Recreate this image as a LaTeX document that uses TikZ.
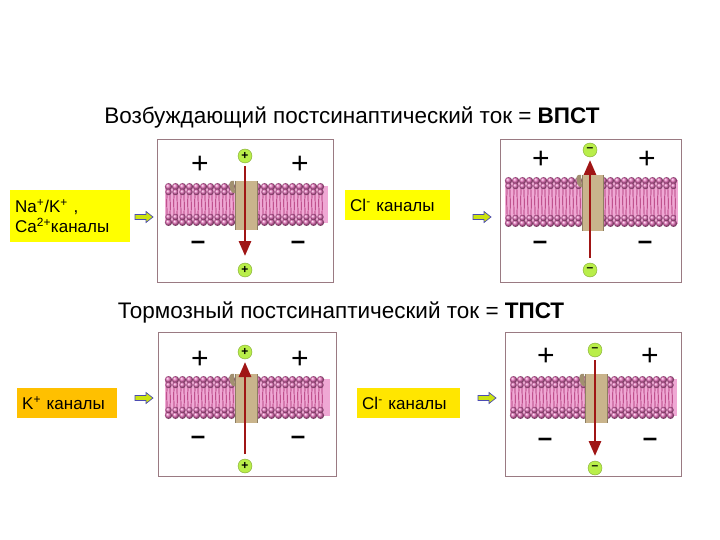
\documentclass[tikz,border=0pt]{standalone}
\usepackage{fontspec}
\setmainfont{Liberation Sans}
\usetikzlibrary{arrows.meta}
\definecolor{lip}{HTML}{E06AB4}
\definecolor{lipd}{HTML}{A8246A}
\definecolor{lipbg}{HTML}{EFA8D4}
\definecolor{chan}{HTML}{C9B48C}
\definecolor{arr}{HTML}{A01515}
\definecolor{ball}{HTML}{B9EE4A}
\definecolor{boxy}{HTML}{FFFF00}
\definecolor{boxo}{HTML}{FFC000}
\definecolor{frame}{HTML}{9A7A82}
\tikzset{
 panel/.style={draw=frame,line width=0.8pt},
 lbl/.style={anchor=north west,inner sep=5pt,font=\fontsize{17}{20}\selectfont,align=left,text width=#1},
 sign/.style={font=\fontsize{30}{30}\selectfont},
 msign/.style={font=\bfseries\fontsize{26}{26}\selectfont},
 ion/.style={circle,fill=ball,draw=ball!70!black,line width=0.4pt,minimum size=14pt,inner sep=0pt,font=\bfseries\fontsize{12}{12}\selectfont},
 current/.style={draw=arr,line width=2.8pt,-{Triangle[length=15pt,width=12pt]}},
 smallarr/.style={draw=gray!60!blue,fill=yellow!80!green,line width=0.7pt},
 title/.style={font=\fontsize{22.5}{26}\selectfont}
}
\newcommand\lipseg[4]{% x1 x2 ytop ybot
 \fill[lipbg] (#1,{#3+3}) rectangle (#2,{#4-3});
 \pgfmathsetmacro\nn{int((#2-#1-7)/7)}
 \pgfmathsetmacro\ym{(#3+#4)/2}
 \foreach \k in {0,...,\nn} {
  \pgfmathsetmacro\xc{#1+3.5+7*\k}
  \draw[lipd,line width=0.7pt] ({\xc-1.2},{#3+6}) -- ({\xc-1.8},{\ym-2}) -- ({\xc-1.2},{#4-6});
  \draw[lipd,line width=0.7pt] ({\xc+1.2},{#3+6}) -- ({\xc+1.8},{\ym+2}) -- ({\xc+1.2},{#4-6});
  \shade[ball color=lip] (\xc,{#3+3.6}) circle (3.6);
  \shade[ball color=lip] (\xc,{#3+9}) circle (3.2);
  \shade[ball color=lip] (\xc,{#4-3.6}) circle (3.6);
  \shade[ball color=lip] (\xc,{#4-9}) circle (3.2);
 }}
\newcommand\chan[4]{% xl xr ytop ybot
 \fill[chan] (#1,{#3-2}) rectangle (#2,{#4+4});
 \draw[chan!70!black,line width=0.6pt] (#1,{#3-2}) -- (#1,{#4+4}) (#2,{#3-2}) -- (#2,{#4+4});
 \fill[chan!80!black] ({#1-1},{#3-2}) .. controls ({#1-8},{#3-4}) and ({#1-6},{#3+8}) .. ({#1-2},{#3+10}) -- (#1,{#3+10}) -- cycle;}
\begin{document}
\begin{tikzpicture}[x=1pt,y=-1pt]
\useasboundingbox (0,0) rectangle (720,540);
\fill[white] (0,0) rectangle (720,540);
\node[title] (t1) at (352,117) {Возбуждающий постсинаптический ток = \textbf{ВПСТ}};
\node[title] (t2) at (341,312) {Тормозный постсинаптический ток = \textbf{ТПСТ}};
% panel 1
\draw[panel] (157,139) rectangle (333,282);
\lipseg{165}{238}{183}{226}\lipseg{254}{328}{183}{226}\chan{235}{257}{183}{226}
\node[sign] (p1a) at (200,165) {+};\node[sign] (p1b) at (300,165) {+};
\node[msign] (m1a) at (198,245) {–};\node[msign] (m1b) at (298,245) {–};
\node[ion] (i1a) at (245,156) {+};\node[ion] (i1b) at (245,270) {+};
\draw[current] (245,166) -- (245,256);
% panel 2
\draw[panel] (500,139) rectangle (681,282);
\lipseg{505}{585}{177}{227}\lipseg{600}{678}{177}{227}\chan{582}{603}{177}{227}
\node[sign] (p2a) at (541,160) {+};\node[sign] (p2b) at (647,160) {+};
\node[msign] (m2a) at (540,245) {–};\node[msign] (m2b) at (645,245) {–};
\node[ion] (i2a) at (590,150) {–};\node[ion] (i2b) at (590,270) {–};
\draw[current] (590,258) -- (590,160);
% panel 3
\draw[panel] (158,332) rectangle (336,476);
\lipseg{165}{238}{376}{419}\lipseg{254}{330}{376}{419}\chan{235}{257}{376}{419}
\node[sign] (p3a) at (200,360) {+};\node[sign] (p3b) at (300,360) {+};
\node[msign] (m3a) at (198,440) {–};\node[msign] (m3b) at (298,440) {–};
\node[ion] (i3a) at (245,352) {+};\node[ion] (i3b) at (245,466) {+};
\draw[current] (245,454) -- (245,362);
% panel 4
\draw[panel] (505,332) rectangle (681,476);
\lipseg{510}{588}{376}{419}\lipseg{604}{677}{376}{419}\chan{585}{607}{376}{419}
\node[sign] (p4a) at (546,357) {+};\node[sign] (p4b) at (650,357) {+};
\node[msign] (m4a) at (545,442) {–};\node[msign] (m4b) at (650,442) {–};
\node[ion] (i4a) at (595,350) {–};\node[ion] (i4b) at (595,468) {–};
\draw[current] (595,360) -- (595,456);
% labels
\node[lbl=110pt,fill=boxy,minimum height=52pt] (l1) at (10,190) {Na\textsuperscript{+}/K\textsuperscript{+} ,\\Ca\textsuperscript{2+}каналы};
\node[lbl=95pt,fill=boxy,minimum height=30pt] (l2) at (345,190) {Cl\textsuperscript{-} каналы};
\node[lbl=90pt,fill=boxo,minimum height=30pt] (l3) at (17,388) {K\textsuperscript{+} каналы};
\node[lbl=93pt,fill=boxy!60!boxo,minimum height=30pt] (l4) at (357,388) {Cl\textsuperscript{-} каналы};
% small arrows
\foreach \xa/\ya/\nm in {135/217/a,473/217/b,135/398/c,478/398/d}{
 \coordinate (s\nm) at (\xa,\ya);
 \draw[smallarr] (s\nm) ++(0,-2.5) -- ++(11,0) -- ++(0,-3) -- ++(7,5.5) -- ++(-7,5.5) -- ++(0,-3) -- ++(-11,0) -- cycle;
}
\end{tikzpicture}
\end{document}
